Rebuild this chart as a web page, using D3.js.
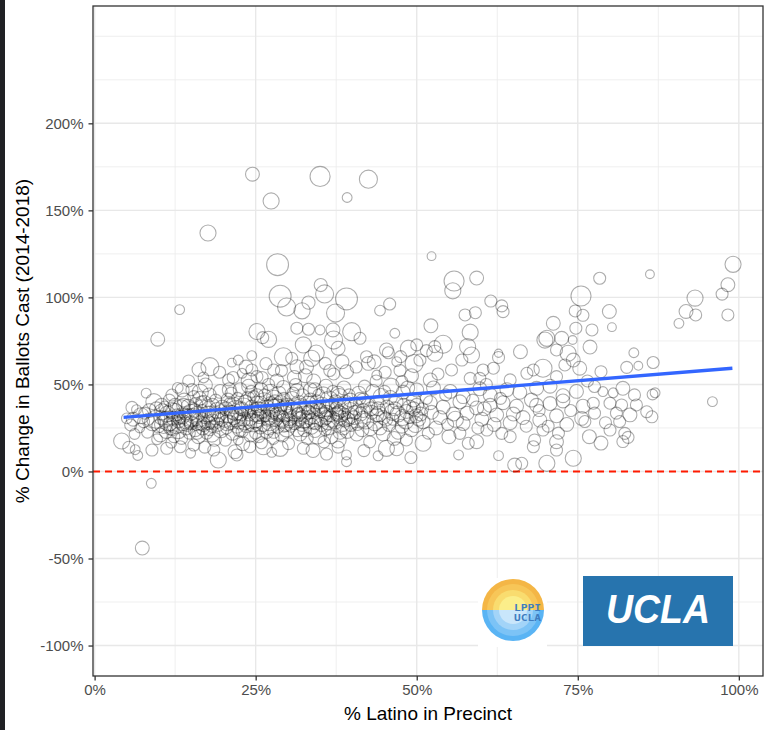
<!DOCTYPE html>
<html><head><meta charset="utf-8">
<script src="https://cdn.jsdelivr.net/npm/d3@7"></script>
<style>body{margin:0;background:#fff;}svg{display:block;font-family:"Liberation Sans",Arial,sans-serif;}</style>
</head><body><svg id="c" width="766" height="730"></svg>
<script>
// ---- data: [% Latino in precinct, % change in ballots cast, ballots cast] ----
const band0to10 = [[4.2,17.5,1350],[5.3,13.9,750],[6.7,9.2,500],[6.3,12.5,500],[8.9,12.3,750],[9.2,40.1,1350],[6.5,35.5,500],[5.6,26.7,750],[7.6,28.6,750],[8.8,-6.8,500],[7.4,-44,1000],[9.8,76,1000],[7.8,33.5,750],[5.0,30.5,600],[8.2,22.5,700],[9.5,30,1700],[6.2,21.5,600],[9.7,18.5,600],[8.0,45,500],[9.9,26,900],[7.0,25,500],[5.8,36.8,750],[6.0,30,1000],[7.2,32,1350],[8.5,35,1000],[9.0,28,1350],[9.6,36,1000],[8.3,30,750]];
const band10to20 = [[17.6,137,1350],[13.2,93,500],[17.9,60.2,1700],[16.2,58.6,1000],[17.2,49.7,1000],[15.4,43,750],[13.6,46.8,1000],[12.0,43.9,750],[10.5,34.3,1350],[18.5,12.3,750],[19.2,6.6,1350],[15.4,15.2,750],[13.3,14.2,750],[11.2,13.3,750],[10.3,31,1000],[10.7,27,1700],[10.9,37,750],[11.1,23,1000],[11.3,33,1350],[11.5,29,2100],[11.6,41,750],[11.8,25,1000],[12.0,35,1350],[12.2,30.5,1000],[12.3,20,750],[12.5,38,1000],[12.6,27,1700],[12.8,32.5,750],[13.0,23.5,1350],[13.1,31,1000],[13.4,36,1700],[13.5,19,750],[13.7,28,1350],[13.9,41,1000],[14.1,33,750],[14.2,25,1000],[14.4,30,2100],[14.5,37.5,1000],[14.7,22,750],[14.9,34,1350],[15.0,28,1000],[15.1,47,750],[15.3,31,1700],[15.6,24,1000],[15.7,38.5,1000],[15.8,27,750],[16.0,33,1350],[16.1,20,1000],[16.3,42,1000],[16.5,29,1700],[16.7,35,750],[16.8,25,1000],[17.0,39,1350],[17.2,31.5,1000],[17.4,22,750],[17.5,36,1700],[17.7,28,1000],[17.8,44,1000],[18.0,33,1350],[18.2,26,750],[18.3,38,1000],[18.5,30,2100],[18.6,18.5,1000],[18.8,41,750],[19.0,35,1350],[19.1,27,1000],[19.3,32,750],[19.5,46,1000],[19.6,24,1350],[19.8,37,1000],[12.9,48,600],[14.6,52,750],[16.9,54,600],[19.4,57,750],[11.9,16.5,600],[17.1,14,750],[14.9,10.5,500],[10.2,21,1000],[18.2,21.5,1350],[16.4,45.5,1350],[10.4,38,1000],[11.0,30,1350],[11.7,27.5,1000],[12.4,34,1700],[13.0,29,1000],[13.6,32,1350],[14.3,27,1000],[14.8,31,1700],[15.5,35,1000],[16.2,30,1350],[16.9,27,1000],[17.6,33,1350],[18.3,29,1000],[18.9,32,1700],[19.7,30,1000],[12.1,24,750],[15.9,22.5,1000],[17.9,24,750],[13.8,38,1000],[16.6,40,750]];
const band20to30 = [[24.5,170.8,1000],[27.4,155.4,1350],[28.4,118.8,2500],[28.8,100.7,2500],[29.8,94.5,1700],[25.2,80.4,1350],[26.1,76.9,750],[27.0,75.9,1350],[29.3,65.9,1700],[27.8,58.3,750],[21.3,62.5,400],[22.3,64,500],[24.4,66.5,500],[25.2,54.5,750],[26.0,54.0,750],[20.8,52.6,750],[22.9,56.4,500],[24.4,58.3,750],[21.8,11.4,1000],[22.3,18.1,500],[24.1,14.2,750],[22.1,9.5,750],[26.2,14.2,1350],[28.8,13.3,1350],[25.2,43.5,1000],[27.3,45.5,1350],[29.3,48.3,1000],[25.0,33,1350],[27.3,31,1000],[29.3,35,1700],[25.7,25.5,1000],[27.8,22.5,750],[29.8,24.5,1350],[20.2,30,1350],[20.4,36,1000],[20.5,25,750],[20.7,41,1000],[20.9,33,1700],[21.1,28,1000],[21.2,45,750],[21.4,22,1000],[21.6,38,1350],[21.7,31,1000],[21.9,35,2100],[22.1,26,1000],[22.2,42,750],[22.4,29,1350],[22.6,47,1000],[22.7,33,1000],[22.9,23,750],[23.1,37,1700],[23.2,30,1000],[23.4,40,1000],[23.6,27,1350],[23.7,34,750],[23.9,49,1000],[24.1,31,1350],[24.2,21,1000],[24.4,37,1000],[24.6,28,1700],[24.7,43,750],[24.9,35,1000],[25.1,29,1000],[25.3,38.5,1350],[25.5,20,750],[25.6,31.5,1000],[25.8,47,1000],[26.0,35,1350],[26.2,27,1000],[26.3,40,1700],[26.5,32,750],[26.7,23,1000],[26.8,37,1000],[27.0,50,750],[27.2,28,1350],[27.4,39,1000],[27.6,34,1000],[27.7,19,750],[27.9,42,1350],[28.1,30,1000],[28.2,36,2100],[28.4,26,1000],[28.6,45,1000],[28.7,32,750],[28.9,39,1350],[29.1,21,1000],[29.2,29,1000],[29.4,42,750],[29.6,33,1350],[29.7,27,1000],[29.9,38,1000],[20.3,18,750],[23.0,16,1000],[25.9,16.5,750],[27.5,11,500],[21.5,54,750],[23.5,60,1000],[26.6,62,750],[28.3,52,1000],[24.0,52,1350],[29.0,58,750],[20.6,28,1350],[21.3,34,1000],[22.0,31,1700],[22.8,36,1000],[23.3,28.5,1350],[24.0,33,1000],[24.8,30,1700],[25.4,36,1000],[26.1,33,1350],[26.9,30,1000],[27.6,36.5,1700],[28.3,33,1000],[29.0,30.5,1350],[29.5,37,1000],[21.0,39,750],[23.8,42,1000],[26.4,44,750],[28.0,40,1000],[22.5,24,1000],[25.0,22,750],[27.1,25,1000],[29.4,26,750],[20.9,47,1000],[24.3,46,750]];
const band30to40 = [[35.0,169.5,2100],[39.2,157.4,500],[32.2,92.3,1350],[33.2,97,900],[35.1,107.1,900],[35.7,102,1700],[39.1,99.1,2500],[37.4,91,1700],[31.4,82.3,750],[33.2,81.7,750],[35.0,81.3,500],[37.0,81.3,1000],[32.4,72.7,1350],[37.1,75.5,1700],[37.8,70.8,1000],[33.7,65,1350],[35.8,62.1,750],[31.4,60.2,1000],[39.1,57.3,1000],[32.4,13.3,750],[37.8,18.1,1350],[39.1,9.5,500],[39.1,5.6,500],[39.9,80.3,1700],[31.4,46.5,1000],[33.5,41,1000],[35.5,44,1350],[37.8,45,1000],[39.7,41,1000],[31.6,32.5,1000],[33.7,35,1350],[35.9,31,1000],[37.9,34,1000],[31.9,21.5,1000],[34.2,23.5,1000],[36.3,25,1000],[38.1,22.5,1000],[30.2,31,1350],[30.4,37,1000],[30.5,26,750],[30.7,42,1000],[30.9,34,1700],[31.1,28,1000],[31.2,50,750],[31.5,24,1000],[31.7,39,1350],[31.8,30,1000],[32.0,36,2100],[32.2,27,1000],[32.3,44,750],[32.5,33,1350],[32.7,55,1000],[32.8,29,1000],[33.0,19,750],[33.1,38,1700],[33.3,31,1000],[33.5,47,1000],[33.6,26,1350],[33.8,36,750],[34.0,52,1000],[34.1,32,1350],[34.3,28,1000],[34.5,40,1000],[34.6,21,1700],[34.8,44,750],[35.0,35,1000],[35.2,27,1000],[35.3,38,1350],[35.6,17,750],[35.7,33,1000],[35.9,49,1000],[36.1,36,1350],[36.2,28,1000],[36.4,41,1700],[36.6,32,750],[36.7,20,1000],[36.9,38,1000],[37.1,56,750],[37.3,29,1350],[37.4,40,1000],[37.6,33,1000],[37.8,14,750],[38.0,43,1350],[38.2,31,1000],[38.3,37,2100],[38.5,27,1000],[38.7,48,1000],[38.8,33,750],[39.0,39,1350],[39.2,23,1000],[39.3,30,1000],[39.5,44,750],[39.7,35,1350],[39.8,27,1000],[30.6,65,750],[32.9,60,1000],[34.4,68,1350],[36.5,58,750],[38.4,63,1000],[30.1,16,750],[33.9,12,1000],[36.0,10,750],[31.0,54,1000],[30.3,29,1000],[31.0,35,1350],[31.7,33,1000],[32.4,30,1700],[33.2,34,1000],[33.9,29,1350],[34.7,36,1000],[35.4,31,1700],[36.0,34,1000],[36.8,30,1350],[37.5,36,1000],[38.1,33,1350],[38.9,29.5,1000],[39.6,32,1350],[30.8,45,750],[34.2,47,1000],[37.0,46,750],[32.6,24,1000],[35.8,24,750],[38.6,25,1000]];
const band40to50 = [[42.5,167.9,1700],[44.3,92.4,600],[45.8,96.2,750],[41.2,76.5,750],[46.6,79.4,500],[45.3,69.8,1000],[48.7,70.8,1350],[42.2,65.9,750],[46.9,63.1,500],[49.6,62,1700],[43.8,55.4,500],[47.7,51.6,750],[45.3,13.3,1350],[48.4,18.1,750],[45.6,68.2,750],[42.5,62.1,1000],[41.7,41,1000],[43.8,39.5,1000],[45.9,42.5,1000],[47.9,45.5,1000],[49.5,41,1000],[41.7,35,1000],[43.8,32.5,1000],[46.2,34,1350],[48.4,34.5,1000],[40.7,21.5,1000],[42.8,24.5,1000],[44.8,21.5,1000],[47.1,22.5,1000],[49.2,24,1000],[40.3,31,1000],[40.5,37,1350],[40.8,27,750],[41.0,45,1000],[41.3,33,1000],[41.5,24,1000],[41.9,49,750],[42.1,29,1350],[42.4,38,1000],[42.7,17,750],[43.0,34,1000],[43.2,46,1000],[43.5,28,1350],[43.7,52,750],[44.0,36,1000],[44.3,25,1000],[44.5,43,1350],[44.8,31,1000],[45.1,57,750],[45.4,37,1000],[45.7,27,1000],[46.0,49,1350],[46.3,30,750],[46.5,19,1000],[46.8,40,1000],[47.1,33,1350],[47.4,58,750],[47.7,26,1000],[48.0,38,1000],[48.3,29,1350],[48.6,48,1000],[48.9,31,750],[49.2,55,1000],[49.5,36,1000],[49.8,27,1350],[40.6,60,750],[43.4,63,1000],[47.5,66,750],[41.8,12,750],[44.0,9,500],[46.9,13,1000],[49.1,8,750],[49.9,32,1000],[40.4,34,1000],[41.6,30,1350],[42.9,36,1000],[44.1,33,1350],[45.2,30,1000],[46.6,36,1000],[47.8,31,1350],[48.9,37,1000],[41.2,42,750],[45.0,46,750]];
const band50to60 = [[55.8,109.4,2100],[55.6,103.8,1350],[59.3,111.1,1000],[57.5,89.9,750],[59.1,91.2,750],[52.3,123.7,400],[54.1,73.1,1700],[52.8,71.7,750],[57.9,71.7,1350],[58.5,66.9,1350],[51.5,69.4,750],[52.2,83.7,1000],[58.3,80,1350],[50.0,72.7,750],[52.8,67.9,1350],[50.5,64,750],[57.0,64,750],[55.4,58.3,750],[52.1,52.6,1000],[58.3,53.5,750],[59.8,53.5,750],[50.0,46.8,1000],[52.6,48,1000],[55.2,46,1000],[57.2,43,1000],[59.8,47.5,1000],[50.0,38,1000],[52.1,39.5,1000],[54.1,37,1000],[56.7,40,1000],[59.3,36.5,1000],[51.0,28.5,1000],[53.6,31,1000],[55.7,33,1000],[57.2,27.5,1000],[51.0,16.2,1350],[56.7,21.9,750],[59.3,17.1,1000],[56.5,9.5,500],[58.0,16.2,750],[50.3,30,1000],[50.6,33,1000],[50.9,36,750],[51.5,42,750],[53.0,25,1000],[54.5,44,750],[55.0,20,1000],[56.0,30,1350],[58.7,41,750],[53.3,56,750],[54.8,27,750],[57.8,33.5,1000],[59.5,25,750],[52.3,34,1000],[51.8,22,750]];
const band60to70 = [[61.5,97.9,750],[63.2,95.1,750],[63.4,91.8,750],[62.7,67.9,350],[66.1,68.8,1000],[69.9,75.5,1350],[62.7,65.5,750],[60.3,58.3,750],[61.9,59.3,750],[69.6,59.3,1700],[68.1,58.3,750],[64.5,52.6,750],[67.1,56.4,750],[61.4,44,1000],[64.0,47,1000],[66.0,45.5,1000],[68.6,47.8,1000],[61.4,38,1000],[63.4,39.5,1000],[65.5,37.5,1000],[68.6,38,1000],[60.1,30,1000],[62.4,32.5,1000],[64.5,28,1000],[66.5,31,1000],[69.1,29.5,1000],[63.2,21.9,750],[64.5,20,750],[68.3,18.1,750],[69.6,23.8,750],[60.9,23.8,750],[62.7,9.1,500],[65.2,3.7,1000],[66.3,4.7,750],[68.1,14.2,750],[60.8,50,750],[62.0,27,1000],[63.0,42,750],[65.0,33,1000],[67.0,26,750],[67.8,41,1000],[69.0,35,750],[60.5,36,1000]];
const band70to80 = [[75.5,100.8,2100],[74.6,92.2,750],[75.8,89.7,750],[71.2,85.1,1000],[70.2,76.5,1350],[72.5,76.5,1000],[74.2,75.5,400],[74.7,82.3,750],[71.7,69.8,750],[73.5,67.9,1350],[73.0,61.2,750],[75.3,59.3,1000],[74.3,64,1000],[71.7,54.5,750],[78.4,111,750],[79.9,91.9,1000],[77.2,81.3,750],[76.9,71.5,1000],[78.6,57.3,750],[70.7,49,1000],[72.7,43.5,1000],[74.8,46,1000],[70.7,39,1000],[72.7,40.5,1000],[75.8,37.5,1000],[71.7,32,1000],[73.3,27,1000],[75.6,30.5,1000],[71.7,17.1,1000],[71.7,12.3,750],[70.2,4.7,1350],[74.3,7.6,1350],[77.6,48.8,750],[78.9,45.9,500],[77.4,39.2,750],[77.6,33.5,750],[76.1,28.7,750],[78.6,16.3,1000],[76.5,52,750],[73.9,35,750],[72.0,22,750],[79.3,28,750],[76.8,20,1000],[70.4,26,750]];
const band80to100 = [[86.2,113.3,400],[99.1,119,1350],[98.3,107.3,1000],[97.4,101.9,750],[93.2,99.6,1350],[91.8,91.9,1000],[93.3,89.9,750],[90.7,85.1,500],[98.3,89.9,750],[80.3,82.9,400],[83.7,68.2,500],[86.7,62.6,750],[84.4,60.7,400],[82.6,59.8,750],[95.9,40.1,500],[87.0,45.2,500],[86.6,44.2,600],[82.0,47.8,1000],[83.8,44,750],[80.5,45.2,500],[80.0,39.2,750],[81.8,38.2,750],[84.1,38.2,750],[85.7,34.3,750],[86.5,31.4,750],[83.1,32.5,1000],[81.0,33.5,750],[81.5,28.7,750],[80.0,23.8,750],[82.3,21.9,750],[82.8,19.6,750],[82.0,17.2,750]];
// fitted linear trend (endpoints)
const trendLatino = [4.5, 99.0];
const trendChange = [31.1, 59.3];
// axes
const xTicks = [0, 25, 50, 75, 100];
const yTicks = [-100, -50, 0, 50, 100, 150, 200];
const xLimits = [-0.25, 103.75];
const yLimits = [-117.5, 267.4];

const precincts = [].concat(band0to10, band10to20, band20to30, band30to40, band40to50, band50to60, band60to70, band70to80, band80to100);

const svg = d3.select("#c");
const P = {l: 93, r: 763, t: 6, b: 676};
const x = d3.scaleLinear().domain(xLimits).range([P.l, P.r]);
const y = d3.scaleLinear().domain(yLimits).range([P.b, P.t]);
const r = d3.scaleSqrt().domain([0, 3000]).range([0, 12]);

// dark left strip (screenshot edge)
svg.append("rect").attr("x",0).attr("y",0).attr("width",5).attr("height",730).attr("fill","#202124");

// panel background
svg.append("rect").attr("x",P.l).attr("y",P.t).attr("width",P.r-P.l).attr("height",P.b-P.t).attr("fill","#fff");

// grid
const g = svg.append("g");
const xMinor = d3.range(12.5, 104, 25);
const yMinor = d3.range(-75, 268, 50).concat([250]);
xMinor.forEach(v => g.append("line").attr("x1",x(v)).attr("x2",x(v)).attr("y1",P.t).attr("y2",P.b).attr("stroke","#ebebeb").attr("stroke-width",0.8));
yMinor.forEach(v => g.append("line").attr("y1",y(v)).attr("y2",y(v)).attr("x1",P.l).attr("x2",P.r).attr("stroke","#ebebeb").attr("stroke-width",0.8));
xTicks.forEach(v => g.append("line").attr("x1",x(v)).attr("x2",x(v)).attr("y1",P.t).attr("y2",P.b).attr("stroke","#e8e8e8").attr("stroke-width",1.4));
yTicks.forEach(v => g.append("line").attr("y1",y(v)).attr("y2",y(v)).attr("x1",P.l).attr("x2",P.r).attr("stroke","#e8e8e8").attr("stroke-width",1.4));

// logos
const lx = 513, ly = 610;
svg.append("rect").attr("x",478).attr("y",578).attr("width",69).attr("height",69).attr("fill","#fff");
const topRings = [["#f4b646",31],["#f7c658",26],["#f9dc6f",20],["#fbee8a",14]];
const botRings = [["#5ab4f4",31],["#7cc3f6",26],["#a3d4f8",20],["#c9e6fb",14]];
topRings.forEach(([c,rr]) => svg.append("path").attr("d", d3.arc()({innerRadius:0,outerRadius:rr,startAngle:-Math.PI/2,endAngle:Math.PI/2})).attr("transform",`translate(${lx},${ly})`).attr("fill",c));
botRings.forEach(([c,rr]) => svg.append("path").attr("d", d3.arc()({innerRadius:0,outerRadius:rr,startAngle:Math.PI/2,endAngle:3*Math.PI/2})).attr("transform",`translate(${lx},${ly})`).attr("fill",c));
svg.append("text").attr("x",514).attr("y",610.5).attr("font-family","DejaVu Sans Mono").attr("font-weight","bold").attr("font-size",8.5).attr("fill","#3f7cc0").attr("textLength",27).attr("lengthAdjust","spacingAndGlyphs").text("LPPI");
svg.append("text").attr("x",514).attr("y",620.5).attr("font-family","DejaVu Sans Mono").attr("font-weight","bold").attr("font-size",8.5).attr("fill","#3f7cc0").attr("textLength",27).attr("lengthAdjust","spacingAndGlyphs").text("UCLA");
svg.append("rect").attr("x",583).attr("y",576).attr("width",150).attr("height",70).attr("fill","#2774ae");
svg.append("text").attr("x",658).attr("y",623).attr("text-anchor","middle").attr("font-family","Liberation Sans").attr("font-weight","bold").attr("font-style","italic").attr("font-size",40).attr("fill","#fff").attr("textLength",104).attr("lengthAdjust","spacingAndGlyphs").text("UCLA");

// zero reference line
svg.append("line").attr("x1",P.l).attr("x2",P.r).attr("y1",y(0)).attr("y2",y(0)).attr("stroke","#ff1a00").attr("stroke-width",2).attr("stroke-dasharray","7,5");

// points
svg.append("g").selectAll("circle").data(precincts).join("circle")
  .attr("cx", d => x(d[0])).attr("cy", d => y(d[1])).attr("r", d => r(d[2]))
  .attr("fill","none").attr("stroke","#000").attr("stroke-opacity",0.32).attr("stroke-width",1.1);

// trend line
svg.append("path").datum(trendLatino.map((v,i)=>[v,trendChange[i]]))
  .attr("d", d3.line().x(d=>x(d[0])).y(d=>y(d[1])))
  .attr("stroke","#3366ff").attr("stroke-width",3.4).attr("fill","none");

// panel border
svg.append("rect").attr("x",P.l).attr("y",P.t).attr("width",P.r-P.l).attr("height",P.b-P.t).attr("fill","none").attr("stroke","#333").attr("stroke-width",1.3);

// axes
const xa = svg.append("g").attr("transform",`translate(0,${P.b})`)
  .call(d3.axisBottom(x).tickValues(xTicks).tickFormat(d=>d+"%").tickSize(4.5).tickPadding(4));
const ya = svg.append("g").attr("transform",`translate(${P.l},0)`)
  .call(d3.axisLeft(y).tickValues(yTicks).tickFormat(d=>d+"%").tickSize(4.5).tickPadding(5));
[xa, ya].forEach(a => {
  a.select(".domain").remove();
  a.selectAll(".tick line").attr("stroke","#333").attr("stroke-width",1.3);
  a.selectAll(".tick text").attr("fill","#4d4d4d").attr("font-size",15).attr("font-family","Liberation Sans");
});

// titles
svg.append("text").attr("x",(P.l+P.r)/2).attr("y",720).attr("text-anchor","middle").attr("font-size",19).attr("fill","#000").text("% Latino in Precinct");
svg.append("text").attr("transform",`translate(29,${(P.t+P.b)/2}) rotate(-90)`).attr("text-anchor","middle").attr("font-size",19).attr("fill","#000").text("% Change in Ballots Cast (2014-2018)");
</script></body></html>
